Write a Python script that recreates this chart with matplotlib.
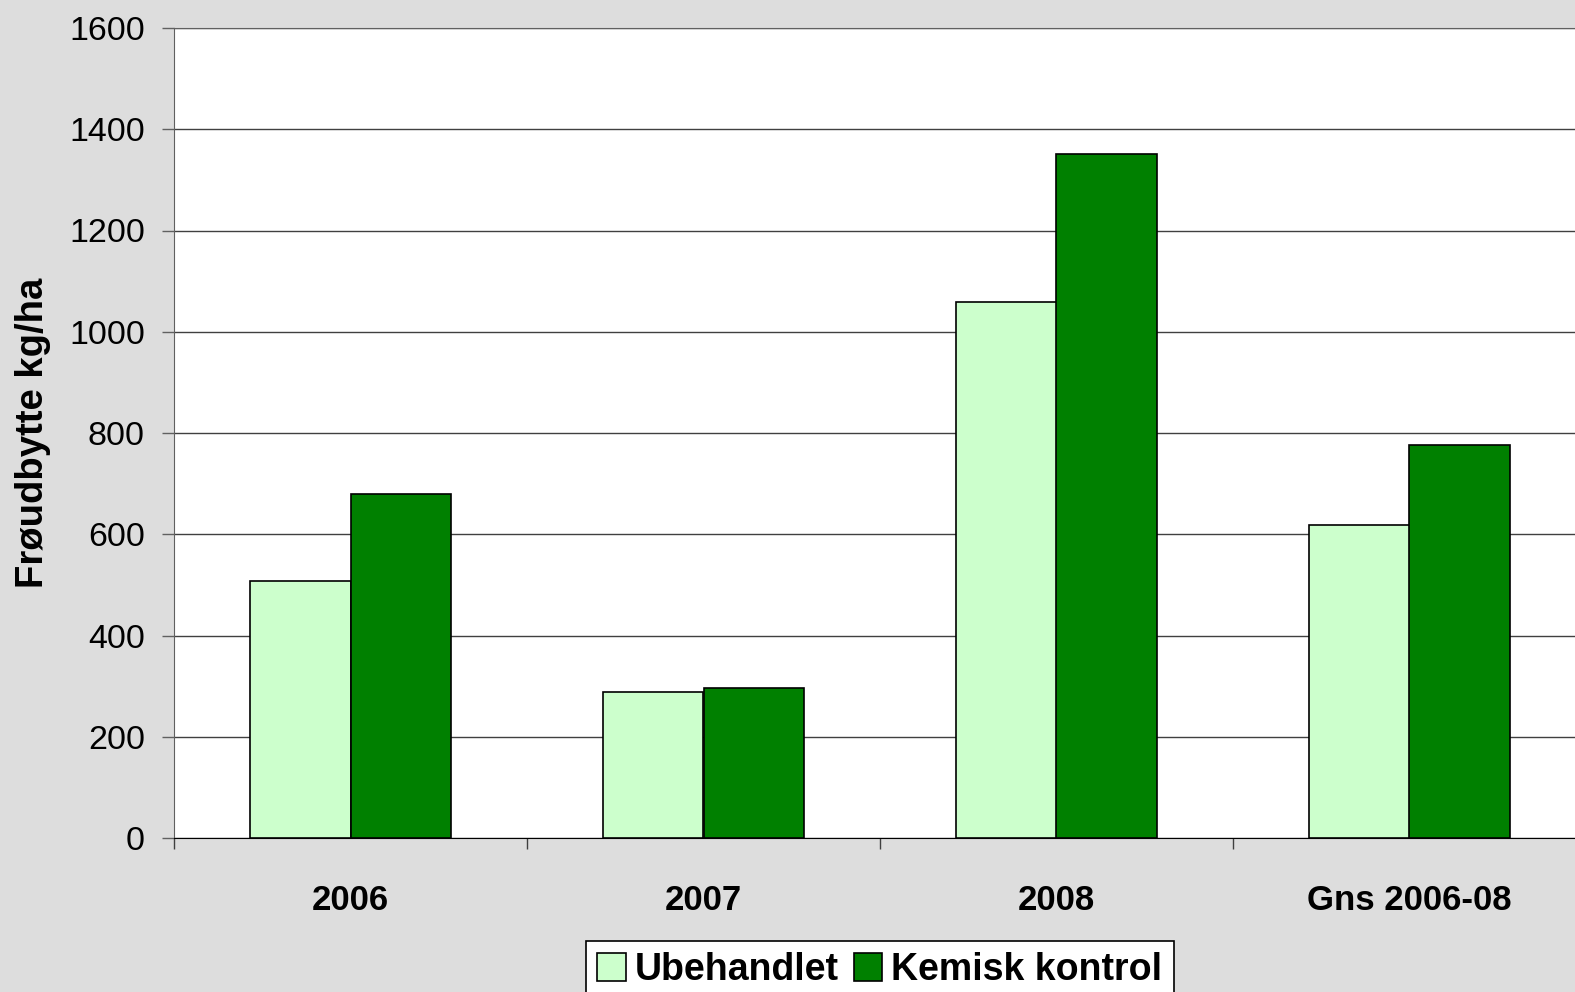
import numpy as np
import matplotlib.pyplot as plt
from matplotlib.ticker import FixedLocator, NullFormatter

plt.rcParams['font.family'] = ['Liberation Sans', 'DejaVu Sans']

categories = ["2006", "2007", "2008", "Gns 2006-08"]
ubehandlet = [507, 289, 1058, 618]
kemisk = [679, 297, 1352, 776]
series_names = ["Ubehandlet", "Kemisk kontrol"]

bg = "#DDDDDD"
fig = plt.figure(figsize=(15.75, 9.92), dpi=100, facecolor=bg)
# plot area runs off the right edge like in the original
ax = fig.add_axes([174/1575, 154/992, 1412/1575, 810/992])
ax.set_facecolor("white")

x = np.arange(len(categories))
w = 0.286
ax.bar(x - w/2, ubehandlet, w, color="#CCFFCC", edgecolor="black", linewidth=1.2,
       label=series_names[0], zorder=3)
ax.bar(x + w/2, kemisk, w, color="#008000", edgecolor="black", linewidth=1.2,
       label=series_names[1], zorder=3)

ax.set_xlim(-0.5, len(categories) - 0.5)
ax.set_ylim(0, 1600)
ax.set_yticks(np.arange(0, 1601, 200))
ax.yaxis.grid(True, color="#404040", linewidth=1, zorder=0)

# ticks between groups, labels under group centres
ax.xaxis.set_major_locator(FixedLocator(np.arange(-0.5, len(categories), 1)))
ax.xaxis.set_major_formatter(NullFormatter())
ax.xaxis.set_minor_locator(FixedLocator(x))
ax.set_xticklabels(categories, minor=True, fontsize=25, fontweight="bold")
ax.tick_params(axis="x", which="major", length=8, width=1, color="#404040", direction="out")
ax.tick_params(axis="x", which="minor", length=0, pad=33)
ax.tick_params(axis="y", length=9, width=1, color="#606060", labelsize=24.5, pad=12)

for s in ["left", "top"]:
    ax.spines[s].set_color("#606060")
ax.spines["bottom"].set_color("black")
ax.spines["right"].set_visible(False)

ax.set_ylabel("Frøudbytte kg/ha", fontsize=27.5, fontweight="bold")
ax.yaxis.set_label_coords(-0.087, 0.5)

leg = ax.legend(loc="upper center", bbox_to_anchor=(0.5, -0.127), ncol=2,
                frameon=True, fancybox=False, edgecolor="black", framealpha=1,
                prop={"size": 27, "weight": "bold"}, borderaxespad=0,
                handlelength=0.75, handleheight=0.75, handletextpad=0.25,
                columnspacing=0.4, borderpad=0.3)
leg.get_frame().set_linewidth(1.2)

fig.savefig("out.png", dpi=100, facecolor=bg)
